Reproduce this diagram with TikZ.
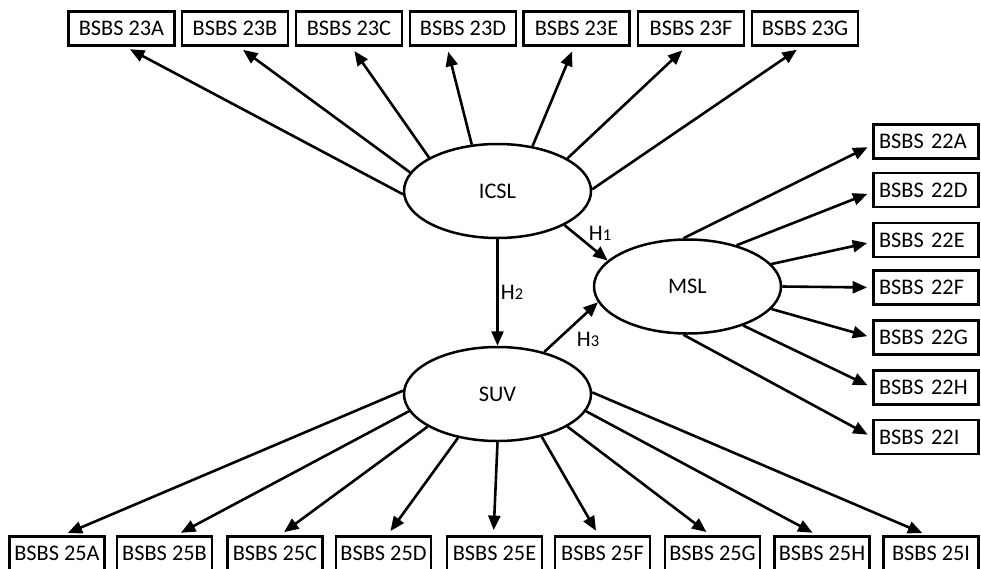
\documentclass[tikz,border=0pt]{standalone}
\usepackage{fontspec}
\setmainfont{Carlito}
\usetikzlibrary{arrows.meta,shapes.geometric,calc}
\newcommand\hsub[1]{{\fontsize{16.5}{16.5}\selectfont #1}}
\begin{document}
\begin{tikzpicture}[x=1pt,y=-1pt,
  txt/.style={font=\fontsize{22.3}{26}\selectfont},
  box/.style={draw, line width=2.8pt, minimum width=106pt, minimum height=34pt, inner sep=0pt, txt},
  bbox/.style={box, minimum width=95pt},
  rbox/.style={box, minimum width=105pt, text width=94pt, inner xsep=5.5pt, align=left},
  lat/.style={ellipse, draw, line width=2.5pt, minimum width=187pt, minimum height=94pt, inner sep=0pt, txt},
  tip/.style={-{Triangle[length=14.5pt,width=12pt]}, line width=2.6pt},
  arr/.style={tip, shorten >=5pt},
  hlab/.style={inner sep=0pt, txt}
]
\useasboundingbox (0,0) rectangle (981,568);
\clip (0,0) rectangle (981,568);

% latent variables
\node[lat] (icsl) at (497.5,191) {ICSL};
\node[lat] (msl) at (687.5,286.5) {MSL};
\node[lat] (suv) at (497.5,394) {SUV};

% top indicators
\node[box] (b23A) at (121.5,28.5) {BSBS 23A};
\node[box] (b23B) at (235,28.5) {BSBS 23B};
\node[box] (b23C) at (349,28.5) {BSBS 23C};
\node[box] (b23D) at (463,28.5) {BSBS 23D};
\node[box] (b23E) at (576.5,28.5) {BSBS 23E};
\node[box] (b23F) at (691,28.5) {BSBS 23F};
\node[box] (b23G) at (805,28.5) {BSBS 23G};

% right indicators
\node[rbox] (b22A) at (926,141.5) {BSBS 22A};
\node[rbox] (b22D) at (926,190) {BSBS 22D};
\node[rbox] (b22E) at (926,240) {BSBS 22E};
\node[rbox] (b22F) at (926,287.5) {BSBS 22F};
\node[rbox] (b22G) at (926,337.5) {BSBS 22G};
\node[rbox] (b22H) at (926,387.5) {BSBS 22H};
\node[rbox] (b22I) at (926,437) {BSBS 22I};

% bottom indicators
\node[bbox] (b25A) at (57,553.5) {BSBS 25A};
\node[bbox] (b25B) at (164.5,553.5) {BSBS 25B};
\node[bbox] (b25C) at (275,553.5) {BSBS 25C};
\node[bbox] (b25D) at (383.5,553.5) {BSBS 25D};
\node[bbox] (b25E) at (494.5,553.5) {BSBS 25E};
\node[bbox] (b25F) at (602.5,553.5) {BSBS 25F};
\node[bbox] (b25G) at (712.5,553.5) {BSBS 25G};
\node[bbox] (b25H) at (822,553.5) {BSBS 25H};
\node[bbox] (b25I) at (931,553.5) {BSBS 25I};

% ICSL -> 23x
\draw[arr] (icsl.182.4) -- ([xshift=4pt]b23A.south);
\draw[arr] (icsl.168.6) -- ([xshift=4pt]b23B.south);
\draw[arr] (icsl.154.3) -- ([xshift=2.5pt]b23C.south);
\draw[arr] (icsl.119.4) -- ([xshift=-16pt]b23D.south);
\draw[arr] (icsl.52.3) -- ([xshift=-2.5pt]b23E.south);
\draw[arr] (icsl.25.4) -- ([xshift=-5pt]b23F.south);
\draw[arr] (icsl.1.8) -- ([xshift=-4pt]b23G.south);

% MSL -> 22x
\draw[arr] (msl.95.3) -- ([yshift=-3.5pt]b22A.west);
\draw[arr] (msl.40) -- ([yshift=-2pt]b22D.west);
\draw[arr] (msl.15.7) -- ([yshift=-2pt]b22E.west);
\draw[arr] (msl.east) -- (b22F.west);
\draw[arr] (msl.-15.8) -- (b22G.west);
\draw[arr] (msl.-35.6) -- (b22H.west);
\draw[arr] (msl.-95.1) -- (b22I.west);

% SUV -> 25x
\draw[arr] (suv.178.8) -- ([xshift=6pt]b25A.north);
\draw[arr] (suv.191.9) -- ([xshift=12pt]b25B.north);
\draw[arr] (suv.205.4) -- ([xshift=5pt]b25C.north);
\draw[arr] (suv.228.6) -- ([xshift=4pt]b25D.north);
\draw[arr] (suv.south) -- ([xshift=-1pt]b25E.north);
\draw[arr] (suv.-44.7) -- ([xshift=-4pt]b25F.north);
\draw[arr] (suv.-25.1) -- ([xshift=-2pt]b25G.north);
\draw[arr] (suv.-11.2) -- ([xshift=-5pt]b25H.north);
\draw[arr] (suv.1.2) -- ([xshift=-4pt]b25I.north);

% hypotheses
\draw[tip] (icsl.-27.4) -- (msl.162.8);
\draw[tip] (icsl.south) -- (suv.north);
\draw[tip] (suv.42) -- (msl.190.1);
\node[hlab] (h1) at (600,233) {H\hsub{1}};
\node[hlab] (h2) at (512,292) {H\hsub{2}};
\node[hlab] (h3) at (588,339) {H\hsub{3}};
\end{tikzpicture}
\end{document}
